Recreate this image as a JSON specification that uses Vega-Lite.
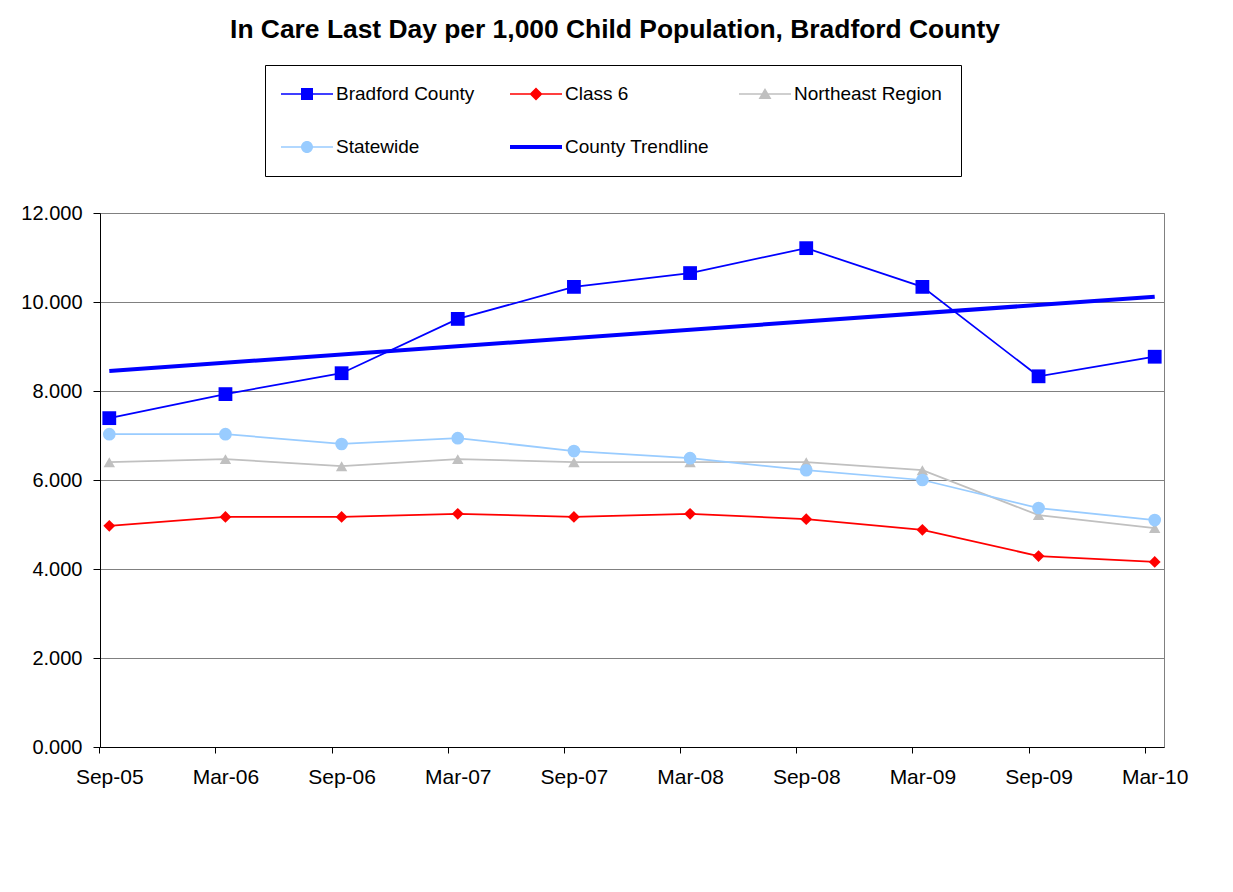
{
  "$schema": "https://vega.github.io/schema/vega-lite/v6.json",
  "autosize": {"type": "none"},
  "width": 1064,
  "height": 534,
  "padding": {"left": 100, "top": 213, "right": 69, "bottom": 145},
  "background": "white",
  "title": {
    "text": "In Care Last Day per 1,000 Child Population, Bradford County",
    "font": "Liberation Sans",
    "fontSize": 26.4,
    "fontWeight": "bold",
    "color": "black",
    "anchor": "middle",
    "dx": -17,
    "offset": 21
  },
  "config": {
    "view": {"stroke": "#808080", "strokeWidth": 1},
    "axis": {"labelFont": "Liberation Sans", "labelColor": "black", "domainColor": "black", "tickColor": "black", "titleFont": "Liberation Sans"},
    "legend": {"labelFont": "Liberation Sans"}
  },
  "data": {
    "values": [
      {"date": "Sep-05", "series": "Bradford County", "value": 7.39},
      {"date": "Mar-06", "series": "Bradford County", "value": 7.93},
      {"date": "Sep-06", "series": "Bradford County", "value": 8.40},
      {"date": "Mar-07", "series": "Bradford County", "value": 9.62},
      {"date": "Sep-07", "series": "Bradford County", "value": 10.34},
      {"date": "Mar-08", "series": "Bradford County", "value": 10.65},
      {"date": "Sep-08", "series": "Bradford County", "value": 11.21},
      {"date": "Mar-09", "series": "Bradford County", "value": 10.34},
      {"date": "Sep-09", "series": "Bradford County", "value": 8.33},
      {"date": "Mar-10", "series": "Bradford County", "value": 8.77},
      {"date": "Sep-05", "series": "Class 6", "value": 4.97},
      {"date": "Mar-06", "series": "Class 6", "value": 5.17},
      {"date": "Sep-06", "series": "Class 6", "value": 5.17},
      {"date": "Mar-07", "series": "Class 6", "value": 5.24},
      {"date": "Sep-07", "series": "Class 6", "value": 5.17},
      {"date": "Mar-08", "series": "Class 6", "value": 5.24},
      {"date": "Sep-08", "series": "Class 6", "value": 5.12},
      {"date": "Mar-09", "series": "Class 6", "value": 4.88},
      {"date": "Sep-09", "series": "Class 6", "value": 4.29},
      {"date": "Mar-10", "series": "Class 6", "value": 4.16},
      {"date": "Sep-05", "series": "Northeast Region", "value": 6.40},
      {"date": "Mar-06", "series": "Northeast Region", "value": 6.47},
      {"date": "Sep-06", "series": "Northeast Region", "value": 6.31},
      {"date": "Mar-07", "series": "Northeast Region", "value": 6.47},
      {"date": "Sep-07", "series": "Northeast Region", "value": 6.40},
      {"date": "Mar-08", "series": "Northeast Region", "value": 6.40},
      {"date": "Sep-08", "series": "Northeast Region", "value": 6.40},
      {"date": "Mar-09", "series": "Northeast Region", "value": 6.22},
      {"date": "Sep-09", "series": "Northeast Region", "value": 5.21},
      {"date": "Mar-10", "series": "Northeast Region", "value": 4.92},
      {"date": "Sep-05", "series": "Statewide", "value": 7.03},
      {"date": "Mar-06", "series": "Statewide", "value": 7.03},
      {"date": "Sep-06", "series": "Statewide", "value": 6.81},
      {"date": "Mar-07", "series": "Statewide", "value": 6.94},
      {"date": "Sep-07", "series": "Statewide", "value": 6.65},
      {"date": "Mar-08", "series": "Statewide", "value": 6.49},
      {"date": "Sep-08", "series": "Statewide", "value": 6.22},
      {"date": "Mar-09", "series": "Statewide", "value": 6.00},
      {"date": "Sep-09", "series": "Statewide", "value": 5.37},
      {"date": "Mar-10", "series": "Statewide", "value": 5.10},
      {"date": "Sep-05", "series": "County Trendline", "value": 8.45},
      {"date": "Mar-10", "series": "County Trendline", "value": 10.12}
    ]
  },
  "encoding": {
    "x": {
      "field": "date",
      "type": "ordinal",
      "sort": ["Sep-05", "Mar-06", "Sep-06", "Mar-07", "Sep-07", "Mar-08", "Sep-08", "Mar-09", "Sep-09", "Mar-10"],
      "scale": {"type": "point", "padding": 0.08},
      "axis": {"title": null, "labelAngle": 0, "labelFontSize": 21, "tickSize": 6, "tickOffset": -10, "labelOffset": 10, "labelPadding": 13, "domainColor": "black", "grid": false}
    },
    "y": {
      "field": "value",
      "type": "quantitative",
      "scale": {"domain": [0, 12], "nice": false, "zero": true},
      "axis": {"title": null, "values": [0, 2, 4, 6, 8, 10, 12], "format": ".3f", "labelFontSize": 20, "tickSize": 7, "labelPadding": 11, "grid": true, "gridColor": "#808080", "gridOpacity": 1, "gridWidth": 1}
    }
  },
  "layer": [
    {
      "transform": [{"filter": "false"}],
      "mark": {"type": "point", "filled": true, "opacity": 1, "size": 400},
      "encoding": {
        "shape": {
          "field": "series",
          "type": "nominal",
          "scale": {
            "domain": ["Bradford County", "Class 6", "Northeast Region", "Statewide", "County Trendline"],
            "range": [
              "M-2.6,-0.08H2.6V0.08H-2.6ZM-0.6,-0.6H0.6V0.6H-0.6Z",
              "M-2.6,-0.08H2.6V0.08H-2.6ZM0,-0.65L0.65,0L0,0.65L-0.65,0Z",
              "M-2.6,-0.08H2.6V0.08H-2.6ZM0,-0.6L0.65,0.5L-0.65,0.5Z",
              "M-2.6,-0.08H2.6V0.08H-2.6ZM-0.6,0A0.6,0.6,0,1,1,0.6,0A0.6,0.6,0,1,1,-0.6,0Z",
              "M-2.6,-0.2H2.6V0.2H-2.6Z"
            ]
          },
          "legend": {"title": null}
        },
        "fill": {
          "field": "series",
          "type": "nominal",
          "scale": {
            "domain": ["Bradford County", "Class 6", "Northeast Region", "Statewide", "County Trendline"],
            "range": ["#0000FF", "#FF0000", "#C0C0C0", "#99CCFF", "#0000FF"]
          },
          "legend": {
            "title": null,
            "orient": "none",
            "legendX": 165,
            "legendY": -148,
            "direction": "horizontal",
            "columns": 3,
            "gridAlign": "all",
            "columnPadding": 26,
            "rowPadding": 33,
            "padding": 19,
            "strokeColor": "black",
            "fillColor": "white",
            "symbolSize": 400,
            "symbolOpacity": 1,
            "symbolStrokeWidth": 0,
            "symbolOffset": 13,
            "labelFontSize": 19,
            "labelColor": "black",
            "labelOffset": 19,
            "labelLimit": 300
          }
        }
      }
    },
    {
      "transform": [{"filter": "datum.series != 'County Trendline'"}],
      "mark": {"type": "line", "strokeWidth": 1.75},
      "encoding": {
        "stroke": {
          "field": "series",
          "type": "nominal",
          "scale": {
            "domain": ["Bradford County", "Class 6", "Northeast Region", "Statewide", "County Trendline"],
            "range": ["#0000FF", "#FF0000", "#C0C0C0", "#99CCFF", "#0000FF"]
          },
          "legend": null
        }
      }
    },
    {
      "transform": [{"filter": "datum.series == 'County Trendline'"}],
      "mark": {"type": "line", "strokeWidth": 4},
      "encoding": {"stroke": {"field": "series", "type": "nominal", "legend": null}}
    },
    {
      "transform": [{"filter": "datum.series == 'Class 6'"}],
      "mark": {"type": "point", "filled": true, "opacity": 1, "shape": "diamond", "size": 140},
      "encoding": {"fill": {"field": "series", "type": "nominal"}}
    },
    {
      "transform": [{"filter": "datum.series == 'Northeast Region'"}],
      "mark": {"type": "point", "filled": true, "opacity": 1, "shape": "triangle-up", "size": 130},
      "encoding": {"fill": {"field": "series", "type": "nominal"}}
    },
    {
      "transform": [{"filter": "datum.series == 'Statewide'"}],
      "mark": {"type": "point", "filled": true, "opacity": 1, "shape": "circle", "size": 160},
      "encoding": {"fill": {"field": "series", "type": "nominal"}}
    },
    {
      "transform": [{"filter": "datum.series == 'Bradford County'"}],
      "mark": {"type": "point", "filled": true, "opacity": 1, "shape": "square", "size": 190},
      "encoding": {"fill": {"field": "series", "type": "nominal"}}
    }
  ]
}
